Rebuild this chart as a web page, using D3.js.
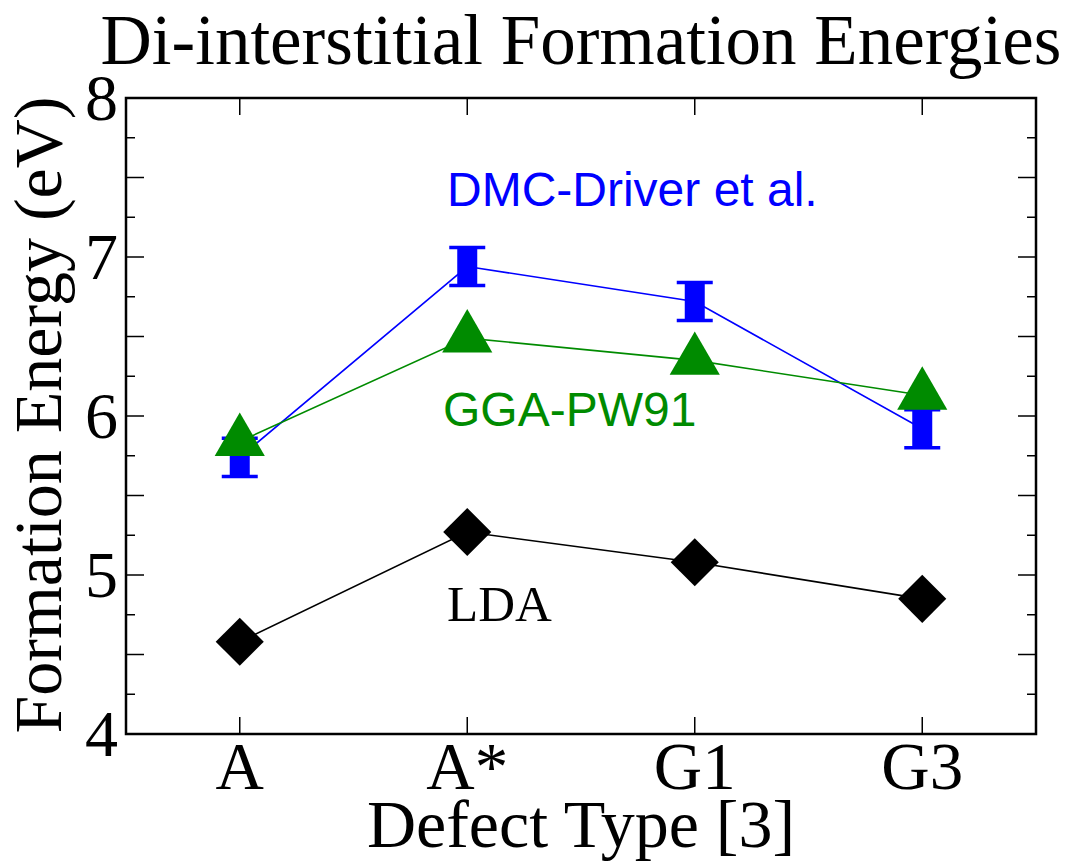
<!DOCTYPE html>
<html>
<head>
<meta charset="utf-8">
<script src="https://cdn.jsdelivr.net/npm/d3@7"></script>
<style>
  body { margin: 0; background: #fff; }
  svg { display: block; }
</style>
</head>
<body>
<div class="chart"></div>
<script>
const categories = ['A', 'A*', 'G1', 'G3'];
const dmcValues = [5.74, 6.94, 6.72, 5.92];
const dmcErrors = [0.12, 0.12, 0.12, 0.12];
const ggaValues = [5.84, 6.49, 6.35, 6.13];
const ldaValues = [4.58, 5.27, 5.08, 4.85];
const yTickLabels = [4, 5, 6, 7, 8];

const width = 1072;
const height = 863;
const margin = {left: 126, right: 36, top: 98, bottom: 129};

let svg = d3.select('.chart')
  .append('svg')
  .attr('width', width)
  .attr('height', height);

let x = d3.scaleLinear()
  .domain([0.5, categories.length + 0.5])
  .range([margin.left, width - margin.right]);

let y = d3.scaleLinear()
  .domain([4, 8])
  .range([height - margin.bottom, margin.top]);

const serif = '"Liberation Serif", "Times New Roman", serif';
const sans = '"Liberation Sans", Arial, sans-serif';

// title
svg.append('text')
  .attr('x', 581)
  .attr('y', 64)
  .attr('text-anchor', 'middle')
  .style('font-family', serif)
  .style('font-size', '71px')
  .text('Di-interstitial Formation Energies');

// axes with inward ticks (xmgrace style)
const x0 = x.range()[0], x1 = x.range()[1];
const y0 = y.range()[0], y1 = y.range()[1];

let ticks = svg.append('g').attr('stroke', '#000').attr('stroke-width', 1.5);

let yMinor = d3.range(4.25, 8, 0.25);
yMinor.forEach(function(v) {
  let major = Math.abs(v * 2 - Math.round(v * 2)) < 1e-6;
  let len = major ? 18 : 9;
  ticks.append('line').attr('x1', x0).attr('x2', x0 + len).attr('y1', y(v)).attr('y2', y(v));
  ticks.append('line').attr('x1', x1).attr('x2', x1 - len).attr('y1', y(v)).attr('y2', y(v));
});

categories.forEach(function(c, i) {
  ticks.append('line').attr('x1', x(i + 1)).attr('x2', x(i + 1)).attr('y1', y0).attr('y2', y0 - 17);
  ticks.append('line').attr('x1', x(i + 1)).attr('x2', x(i + 1)).attr('y1', y1).attr('y2', y1 + 17);
});

svg.append('rect')
  .attr('x', x0)
  .attr('y', y1)
  .attr('width', x1 - x0)
  .attr('height', y0 - y1)
  .attr('fill', 'none')
  .attr('stroke', '#000')
  .attr('stroke-width', 2.5);

// tick labels
svg.selectAll('.ylab')
  .data(yTickLabels)
  .enter()
  .append('text')
  .attr('class', 'ylab')
  .attr('x', x0 - 8)
  .attr('y', function(d) { return y(d) + 22; })
  .attr('text-anchor', 'end')
  .style('font-family', serif)
  .style('font-size', '66px')
  .text(function(d) { return d; });

svg.selectAll('.xlab')
  .data(categories)
  .enter()
  .append('text')
  .attr('class', 'xlab')
  .attr('x', function(_, i) { return x(i + 1); })
  .attr('y', 789)
  .attr('text-anchor', 'middle')
  .style('font-family', serif)
  .style('font-size', '67px')
  .text(function(d) { return d; });

// axis titles
svg.append('text')
  .attr('x', 581)
  .attr('y', 847)
  .attr('text-anchor', 'middle')
  .style('font-family', serif)
  .style('font-size', '68px')
  .text('Defect Type [3]');

svg.append('text')
  .attr('transform', 'translate(61,' + 415 + ') rotate(-90)')
  .attr('text-anchor', 'middle')
  .style('font-family', serif)
  .style('font-size', '68px')
  .text('Formation Energy (eV)');

let line = d3.line()
  .x(function(_, i) { return x(i + 1); })
  .y(function(d) { return y(d); });

// DMC series
const blue = '#0000ff';
svg.append('path')
  .datum(dmcValues)
  .attr('d', line)
  .attr('fill', 'none')
  .attr('stroke', blue)
  .attr('stroke-width', 1.6);

let dmc = svg.selectAll('.dmc')
  .data(dmcValues)
  .enter()
  .append('g')
  .attr('class', 'dmc');

dmc.append('rect')
  .attr('x', function(_, i) { return x(i + 1) - 10; })
  .attr('y', function(d, i) { return y(d + dmcErrors[i]); })
  .attr('width', 20)
  .attr('height', function(d, i) { return y(d - dmcErrors[i]) - y(d + dmcErrors[i]); })
  .attr('fill', blue);

[1, -1].forEach(function(s) {
  dmc.append('line')
    .attr('x1', function(_, i) { return x(i + 1) - 18; })
    .attr('x2', function(_, i) { return x(i + 1) + 18; })
    .attr('y1', function(d, i) { return y(d + s * dmcErrors[i]); })
    .attr('y2', function(d, i) { return y(d + s * dmcErrors[i]); })
    .attr('stroke', blue)
    .attr('stroke-width', 3.5);
});

// GGA series
const green = '#008b00';
svg.append('path')
  .datum(ggaValues)
  .attr('d', line)
  .attr('fill', 'none')
  .attr('stroke', green)
  .attr('stroke-width', 1.6);

svg.selectAll('.gga')
  .data(ggaValues)
  .enter()
  .append('path')
  .attr('class', 'gga')
  .attr('transform', function(d, i) { return 'translate(' + x(i + 1) + ',' + y(d) + ')'; })
  .attr('d', d3.symbol().type(d3.symbolTriangle).size(1090))
  .attr('fill', green);

// LDA series
svg.append('path')
  .datum(ldaValues)
  .attr('d', line)
  .attr('fill', 'none')
  .attr('stroke', '#000')
  .attr('stroke-width', 1.6);

svg.selectAll('.lda')
  .data(ldaValues)
  .enter()
  .append('rect')
  .attr('class', 'lda')
  .attr('x', -17)
  .attr('y', -17)
  .attr('width', 34)
  .attr('height', 34)
  .attr('transform', function(d, i) { return 'translate(' + x(i + 1) + ',' + y(d) + ') rotate(45)'; })
  .attr('fill', '#000');

// series labels
svg.append('text')
  .attr('x', 447)
  .attr('y', 206)
  .style('font-family', sans)
  .style('font-size', '48px')
  .attr('fill', blue)
  .text('DMC-Driver et al.');

svg.append('text')
  .attr('x', 443)
  .attr('y', 426)
  .style('font-family', sans)
  .style('font-size', '48px')
  .attr('fill', green)
  .text('GGA-PW91');

svg.append('text')
  .attr('x', 447)
  .attr('y', 621)
  .style('font-family', serif)
  .style('font-size', '51px')
  .text('LDA');
</script>
</body>
</html>
